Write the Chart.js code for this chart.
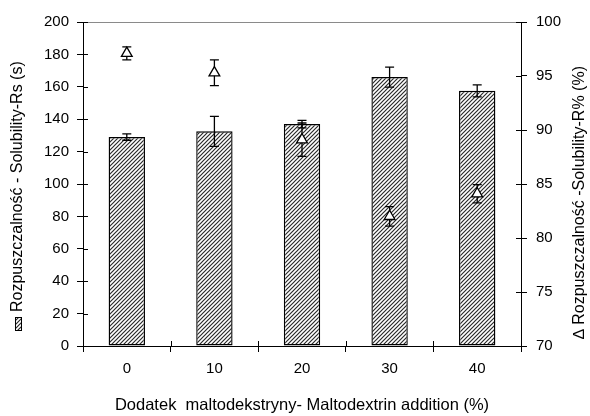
<!DOCTYPE html>
<html>
<head>
<meta charset="utf-8">
<script src="https://cdn.jsdelivr.net/npm/chart.js@4.4.1/dist/chart.umd.min.js"></script>
<style>
  body { margin: 0; background: #fff; }
  canvas { display: block; }
</style>
</head>
<body>
<canvas id="solChart" width="590" height="416"></canvas>
<script>
const categories = ['0', '10', '20', '30', '40'];

// Rs (s) - left axis, bars
const rsValues = [129, 132.5, 137, 166, 157.5];
const rsErrors = [2, 9.3, 2.3, 6.2, 3.7];

// R% (%) - right axis, triangles
const rValues = [97.1, 95.3, 89.1, 82.0, 84.1];
const rErrors = [0.6, 1.2, 1.55, 0.9, 0.85];

const leftTicks = [0, 200, 20];
const rightTicks = [70, 100, 5];

const leftTitle = 'Rozpuszczalność - Solubility-Rs (s)';
const rightTitle = '∆ Rozpuszczalność -Solubility-R% (%)';
const xTitle = 'Dodatek  maltodekstryny- Maltodextrin addition (%)';

const FONT = '"Liberation Sans", Arial, sans-serif';

// hatched fill for bars
function makeHatch() {
    const c = document.createElement('canvas');
    c.width = 4;
    c.height = 4;
    const g = c.getContext('2d');
    g.fillStyle = '#fff';
    g.fillRect(0, 0, 4, 4);
    g.strokeStyle = '#2a2a2a';
    g.lineWidth = 1.2;
    g.beginPath();
    g.moveTo(-1, 5); g.lineTo(5, -1);
    g.moveTo(-1, 1); g.lineTo(1, -1);
    g.moveTo(3, 5); g.lineTo(5, 3);
    g.stroke();
    return g.createPattern(c, 'repeat');
}
const hatch = makeHatch();

function drawErr(ctx, x, yTop, yBot, half) {
    ctx.beginPath();
    ctx.moveTo(x, yTop); ctx.lineTo(x, yBot);
    ctx.moveTo(x - half, yTop); ctx.lineTo(x + half, yTop);
    ctx.moveTo(x - half, yBot); ctx.lineTo(x + half, yBot);
    ctx.stroke();
}

const errorBars = {
    id: 'errorBars',
    beforeDatasetDraw(chart, args) {
        if (args.index !== 1) return;
        const ctx = chart.ctx;
        const y = chart.scales.y;
        const y1 = chart.scales.y1;
        ctx.save();
        ctx.strokeStyle = '#000';
        ctx.lineWidth = 1.3;
        chart.getDatasetMeta(0).data.forEach((bar, i) => {
            drawErr(ctx, bar.x, y.getPixelForValue(rsValues[i] + rsErrors[i]),
                y.getPixelForValue(rsValues[i] - rsErrors[i]), 4.5);
        });
        chart.getDatasetMeta(1).data.forEach((pt, i) => {
            drawErr(ctx, pt.x, y1.getPixelForValue(rValues[i] + rErrors[i]),
                y1.getPixelForValue(rValues[i] - rErrors[i]), 4.5);
        });
        ctx.restore();
    }
};

// inward half of the cross tick marks + rotated axis titles
const axisExtras = {
    id: 'axisExtras',
    afterDraw(chart) {
        const ctx = chart.ctx;
        const { left, right, bottom } = chart.chartArea;
        ctx.save();
        ctx.strokeStyle = '#000';
        ctx.lineWidth = 1;
        ctx.beginPath();
        chart.scales.y.ticks.forEach(t => {
            const py = Math.round(chart.scales.y.getPixelForValue(t.value)) + 0.5;
            ctx.moveTo(left, py); ctx.lineTo(left + 5, py);
        });
        chart.scales.y1.ticks.forEach(t => {
            const py = Math.round(chart.scales.y1.getPixelForValue(t.value)) + 0.5;
            ctx.moveTo(right - 5, py); ctx.lineTo(right, py);
        });
        const step = (right - left) / categories.length;
        for (let i = 1; i < categories.length; i++) {
            const px = Math.round(left + step * i) + 0.5;
            ctx.moveTo(px, bottom); ctx.lineTo(px, bottom - 5);
        }
        ctx.stroke();

        ctx.fillStyle = '#000';
        ctx.font = '16px ' + FONT;
        ctx.textBaseline = 'alphabetic';
        ctx.textAlign = 'left';

        // left title with hatched key
        ctx.fillStyle = hatch;
        ctx.fillRect(15, 317, 7, 14);
        ctx.strokeRect(15.5, 317.5, 6, 13);
        ctx.fillStyle = '#000';
        ctx.save();
        ctx.translate(22, 312);
        ctx.rotate(-Math.PI / 2);
        ctx.fillText(leftTitle, 0, 0);
        ctx.restore();

        // right title
        ctx.save();
        ctx.translate(584, 339);
        ctx.rotate(-Math.PI / 2);
        ctx.fillText(rightTitle, 0, 0);
        ctx.restore();

        // x title
        ctx.textAlign = 'center';
        ctx.font = '16.5px ' + FONT;
        ctx.fillText(xTitle, (left + right) / 2, 410);
        ctx.restore();
    }
};

new Chart(document.getElementById('solChart'), {
    data: {
        labels: categories,
        datasets: [{
            type: 'bar',
            label: 'Rs',
            data: rsValues,
            backgroundColor: hatch,
            borderColor: '#000',
            borderWidth: 1.4,
            borderSkipped: false,
            barPercentage: 0.415,
            categoryPercentage: 1,
            yAxisID: 'y',
            order: 2
        }, {
            type: 'line',
            label: 'R%',
            data: rValues,
            showLine: false,
            pointStyle: 'triangle',
            pointRadius: 6.2,
            pointBackgroundColor: '#fff',
            pointBorderColor: '#000',
            pointBorderWidth: 1.3,
            yAxisID: 'y1',
            order: 1
        }]
    },
    plugins: [errorBars, axisExtras],
    options: {
        responsive: false,
        animation: false,
        layout: { padding: { top: 22, left: 0, right: 0, bottom: 0 } },
        plugins: {
            legend: { display: false },
            tooltip: { enabled: false }
        },
        scales: {
            x: {
                type: 'category',
                offset: true,
                grid: { offset: true, drawOnChartArea: false, tickLength: 6, color: '#000' },
                border: { color: '#000', width: 1 },
                ticks: { color: '#000', font: { family: FONT, size: 15 }, padding: 8 },
                afterFit(s) { s.height = 70; }
            },
            y: {
                position: 'left',
                min: leftTicks[0],
                max: leftTicks[1],
                grid: {
                    tickLength: 6,
                    color: c => c.tick && c.tick.value === leftTicks[1] ? '#8a8a8a' : 'rgba(0,0,0,0)',
                    tickColor: '#000'
                },
                border: { color: '#000', width: 1 },
                ticks: { stepSize: leftTicks[2], color: '#000', font: { family: FONT, size: 15 }, padding: 8 },
                afterFit(s) { s.width = 83; }
            },
            y1: {
                position: 'right',
                min: rightTicks[0],
                max: rightTicks[1],
                grid: { drawOnChartArea: false, tickLength: 6, color: '#000' },
                border: { color: '#000', width: 1 },
                ticks: { stepSize: rightTicks[2], color: '#000', font: { family: FONT, size: 15 }, padding: 9 },
                afterFit(s) { s.width = 69; }
            }
        }
    }
});
</script>
</body>
</html>
